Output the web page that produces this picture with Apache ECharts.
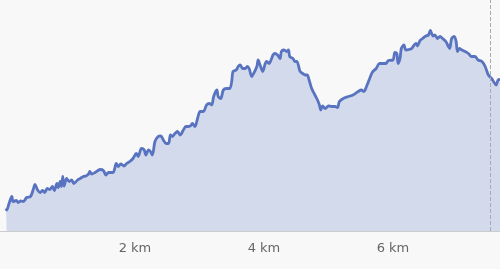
<!DOCTYPE html>
<html>
<head>
<meta charset="utf-8">
<script src="https://cdn.jsdelivr.net/npm/echarts@6/dist/echarts.min.js"></script>
<style>
html,body{margin:0;padding:0;background:#f8f8f8;}
#chart{width:500px;height:269px;}
</style>
</head>
<body>
<div id="chart"></div>
<script>
// distance along the route (km)
const distanceKm = [
0.00,0.01,0.05,0.09,0.11,0.16,0.19,0.23,0.27,0.32,0.38,0.42,0.45,0.49,0.53,0.57,0.60,0.64,0.68,0.72,
0.75,0.79,0.81,0.84,0.86,0.88,0.90,0.94,0.98,1.02,1.05,1.11,1.15,1.20,1.24,1.28,1.30,1.33,1.38,1.46,
1.51,1.55,1.59,1.66,1.71,1.74,1.78,1.83,1.87,1.92,1.97,2.02,2.05,2.10,2.14,2.17,2.21,2.24,2.27,2.31,
2.36,2.40,2.44,2.48,2.52,2.55,2.58,2.62,2.66,2.70,2.75,2.79,2.83,2.86,2.89,2.93,2.97,3.01,
3.06,3.11,3.15,3.19,3.22,3.27,3.29,3.33,3.37,3.42,3.47,3.50,3.52,3.57,3.60,3.63,3.67,3.71,3.74,3.77,
3.81,3.84,3.89,3.91,3.94,3.98,4.02,4.04,4.08,4.11,4.14,4.17,4.21,4.25,4.27,4.31,4.35,4.38,4.40,4.45,
4.48,4.51,4.56,
4.60,4.64,4.67,4.70,4.74,4.79,4.83,4.86,4.88,4.91,4.95,5.00,5.05,5.10,5.14,5.17,5.23,5.31,5.38,5.46,
5.51,5.55,5.59,5.63,5.67,5.69,5.74,5.79,5.84,5.89,5.93,6.00,6.03,6.06,6.08,6.11,
6.13,6.17,6.20,6.25,6.29,6.33,6.36,6.38,6.42,6.46,6.51,6.55,6.58,6.62,6.65,6.69,6.73,6.77,6.82,6.86,
6.88,6.91,6.95,6.98,7.00,7.03,7.07,7.12,7.17,7.22,7.27,7.32,7.38,7.43,7.48,7.53,7.55,7.60,7.63,7.66
];
// elevation (m)
const elevationM = [
45,42,56,69,59,61,57,60,59,67,69,82,93,82,77,81,77,85,83,89,
81,95,87,99,89,109,90,105,99,102,95,102,105,109,110,114,119,114,117,123,
121,112,117,117,135,129,134,130,135,139,145,155,149,165,163,152,162,159,152,179,
189,190,182,175,175,192,189,195,199,192,202,209,209,210,215,209,225,239,
239,252,255,252,269,282,269,265,282,285,285,299,319,322,329,332,325,325,329,325,
309,315,329,342,332,319,335,339,335,342,352,355,352,345,359,362,359,362,349,345,
339,339,319,
315,312,312,302,285,272,262,252,242,250,245,250,249,249,247,259,265,269,272,279,
282,279,289,302,315,319,325,335,335,335,341,342,357,355,335,345,
365,372,362,363,365,372,375,370,381,385,390,392,401,390,392,385,389,385,379,369,
365,385,389,379,359,365,362,359,355,349,349,342,339,329,312,305,301,292,302,303
];
const tickLabelsKm = [2, 4, 6];
const markerKm = 7.51;

const points = distanceKm.map((d, i) => [d, elevationM[i]]);

const chart = echarts.init(document.getElementById('chart'), null, {renderer: 'canvas'});
chart.setOption({
  backgroundColor: '#f8f8f8',
  animation: false,
  grid: {left: 0, right: 0, top: 0, bottom: 38, containLabel: false},
  xAxis: {
    type: 'value',
    min: -0.093,
    max: 7.66,
    axisLine: {show: true, lineStyle: {color: '#cccccc', width: 1}},
    axisTick: {show: false},
    splitLine: {show: false},
    axisLabel: {
      customValues: tickLabelsKm,
      formatter: '{value} km',
      color: '#666666',
      fontSize: 13,
      margin: 11,
      fontFamily: 'DejaVu Sans'
    }
  },
  yAxis: {
    type: 'value',
    min: 0,
    max: 462,
    show: false
  },
  series: [{
    type: 'line',
    data: points,
    showSymbol: false,
    smooth: 0.3,
    lineStyle: {color: '#5873c0', width: 2.8},
    areaStyle: {color: '#5470c6', opacity: 0.22},
    markLine: {
      silent: true,
      symbol: 'none',
      label: {show: false},
      lineStyle: {color: '#aaaaaa', type: 'dashed', width: 1},
      data: [{xAxis: markerKm}]
    }
  }]
});
</script>
</body>
</html>
